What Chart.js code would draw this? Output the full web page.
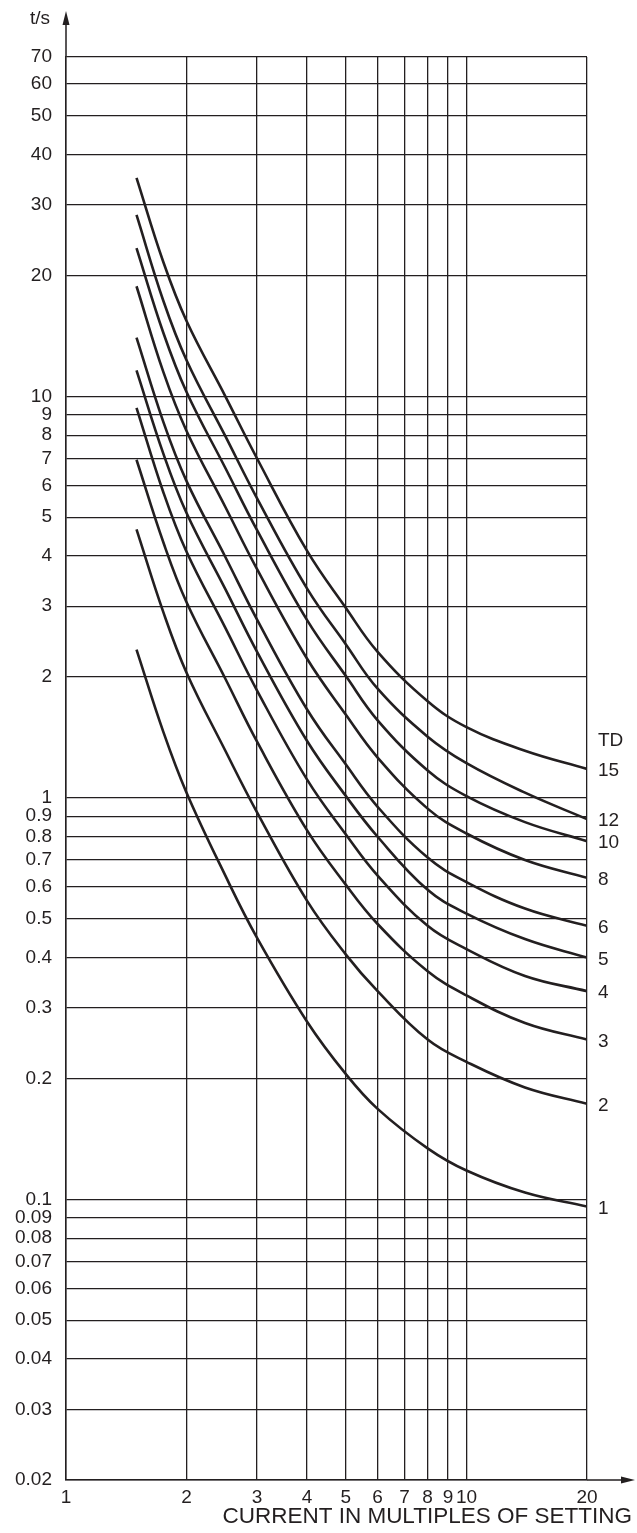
<!DOCTYPE html>
<html>
<head>
<meta charset="utf-8">
<title>Inverse time curves</title>
<script src="https://cdn.jsdelivr.net/npm/chart.js@4.4.1/dist/chart.umd.min.js"></script>
<style>
    html, body { margin: 0; padding: 0; background: #fff; }
    #curves { display: block; }
</style>
</head>
<body>
<canvas id="curves" width="637" height="1533"></canvas>
<script>
// current in multiples of setting
const currentMultiples = [1.5, 1.75, 2, 2.5, 3, 4, 5, 6, 8, 10, 14, 20];

// operating time in seconds, one array per time dial setting
const td1  = [2.34, 1.46, 1.03, 0.64, 0.448, 0.277, 0.205, 0.168, 0.134, 0.118, 0.104, 0.096];
const td2  = [4.66, 2.9, 2.05, 1.31, 0.92, 0.554, 0.407, 0.33, 0.25, 0.22, 0.19, 0.173];
const td3  = [6.95, 4.33, 3.07, 1.98, 1.38, 0.83, 0.607, 0.485, 0.37, 0.322, 0.275, 0.25];
const td4  = [9.36, 5.77, 4.1, 2.65, 1.85, 1.11, 0.81, 0.64, 0.48, 0.42, 0.36, 0.33];
const td5  = [11.6, 7.2, 5.12, 3.31, 2.31, 1.385, 1.01, 0.8, 0.59, 0.515, 0.445, 0.40];
const td6  = [14.0, 8.64, 6.15, 3.98, 2.78, 1.66, 1.21, 0.95, 0.71, 0.617, 0.53, 0.48];
const td8  = [18.8, 11.5, 8.2, 5.3, 3.71, 2.22, 1.61, 1.26, 0.94, 0.815, 0.70, 0.632];
const td10 = [23.4, 14.4, 10.25, 6.63, 4.64, 2.77, 2.01, 1.56, 1.17, 1.01, 0.87, 0.78];
const td12 = [28.3, 17.3, 12.3, 7.96, 5.57, 3.32, 2.41, 1.87, 1.42, 1.22, 1.03, 0.885];
const td15 = [35, 21.6, 15.4, 10.0, 7.0, 4.12, 2.97, 2.31, 1.74, 1.5, 1.31, 1.18];

const dialLabels = ['1', '2', '3', '4', '5', '6', '8', '10', '12', '15'];
const dialCurves = [td1, td2, td3, td4, td5, td6, td8, td10, td12, td15];

const xTicks = [1, 2, 3, 4, 5, 6, 7, 8, 9, 10, 20];
const xTickLabels = ['1', '2', '3', '4', '5', '6', '7', '8', '9', '10', '20'];

const yTicks = [0.02, 0.03, 0.04, 0.05, 0.06, 0.07, 0.08, 0.09,
    0.1, 0.2, 0.3, 0.4, 0.5, 0.6, 0.7, 0.8, 0.9,
    1, 2, 3, 4, 5, 6, 7, 8, 9,
    10, 20, 30, 40, 50, 60, 70];
const yTickLabels = ['0.02', '0.03', '0.04', '0.05', '0.06', '0.07', '0.08', '0.09',
    '0.1', '0.2', '0.3', '0.4', '0.5', '0.6', '0.7', '0.8', '0.9',
    '1', '2', '3', '4', '5', '6', '7', '8', '9',
    '10', '20', '30', '40', '50', '60', '70'];

const ink = '#231f20';
const fontFamily = '"Liberation Sans", Arial, Helvetica, sans-serif';

function buildDataset(label, values) {

    return {
        label: label,
        data: values.map((t, i) => ({ x: currentMultiples[i], y: t })),
        borderColor: ink,
        borderWidth: 2.6,
        pointRadius: 0,
        fill: false,
        tension: 0.4
    };

}

// axis arrows, axis captions and the TD labels at the curve ends
const decorations = {

    id: 'decorations',

    afterDraw(chart) {

        const ctx = chart.ctx;
        const area = chart.chartArea;

        ctx.save();
        ctx.strokeStyle = ink;
        ctx.fillStyle = ink;
        ctx.lineWidth = 1.5;

        ctx.beginPath();
        ctx.moveTo(area.left, area.top);
        ctx.lineTo(area.left, 22);
        ctx.moveTo(area.right, area.bottom);
        ctx.lineTo(624, area.bottom);
        ctx.stroke();

        ctx.beginPath();
        ctx.moveTo(area.left, 11);
        ctx.lineTo(area.left - 3.5, 25);
        ctx.lineTo(area.left + 3.5, 25);
        ctx.closePath();
        ctx.fill();

        ctx.beginPath();
        ctx.moveTo(635, area.bottom);
        ctx.lineTo(621, area.bottom - 3.5);
        ctx.lineTo(621, area.bottom + 3.5);
        ctx.closePath();
        ctx.fill();

        ctx.textBaseline = 'middle';
        ctx.textAlign = 'right';

        ctx.font = '19px ' + fontFamily;
        ctx.fillText('t/s', area.left - 16, 19);

        ctx.font = '22.5px ' + fontFamily;
        ctx.fillText('CURRENT IN MULTIPLES OF SETTING', 632, area.bottom + 37);

        ctx.font = '19px ' + fontFamily;
        ctx.textAlign = 'left';

        let topLabelY = 0;

        chart.data.datasets.forEach((ds, i) => {

            const points = chart.getDatasetMeta(i).data;
            const end = points[points.length - 1];

            ctx.fillText(ds.label, area.right + 11, end.y + 2);
            topLabelY = end.y + 2;

        });

        ctx.fillText('TD', area.right + 11, topLabelY - 30);

        ctx.restore();

    }

};

const ctx = document.getElementById('curves').getContext('2d');

new Chart(ctx, {

    type: 'line',

    data: {
        datasets: dialCurves.map((values, i) => buildDataset(dialLabels[i], values))
    },

    options: {

        responsive: false,
        animation: false,

        layout: {
            padding: { left: 0, right: 50, top: 57, bottom: 0 }
        },

        plugins: {
            legend: { display: false },
            tooltip: { enabled: false }
        },

        scales: {

            x: {
                type: 'logarithmic',
                min: 1,
                max: 20,
                afterBuildTicks: scale => {
                    scale.ticks = xTicks.map(v => ({ value: v }));
                },
                afterFit: scale => {
                    scale.height = 53;
                },
                ticks: {
                    autoSkip: false,
                    maxRotation: 0,
                    minRotation: 0,
                    padding: 6,
                    color: ink,
                    font: { family: fontFamily, size: 19 },
                    callback: (value, index) => xTickLabels[index]
                },
                grid: {
                    color: ink,
                    lineWidth: 1.3,
                    drawTicks: false
                },
                border: {
                    color: ink,
                    width: 1.5
                }
            },

            y: {
                type: 'logarithmic',
                min: 0.02,
                max: 70,
                afterBuildTicks: scale => {
                    scale.ticks = yTicks.map(v => ({ value: v }));
                },
                afterFit: scale => {
                    scale.width = 66;
                },
                ticks: {
                    autoSkip: false,
                    padding: 14,
                    color: ink,
                    font: { family: fontFamily, size: 19 },
                    callback: (value, index) => yTickLabels[index]
                },
                grid: {
                    color: ink,
                    lineWidth: 1.3,
                    drawTicks: false
                },
                border: {
                    color: ink,
                    width: 1.5
                }
            }

        }

    },

    plugins: [decorations]

});
</script>
</body>
</html>
